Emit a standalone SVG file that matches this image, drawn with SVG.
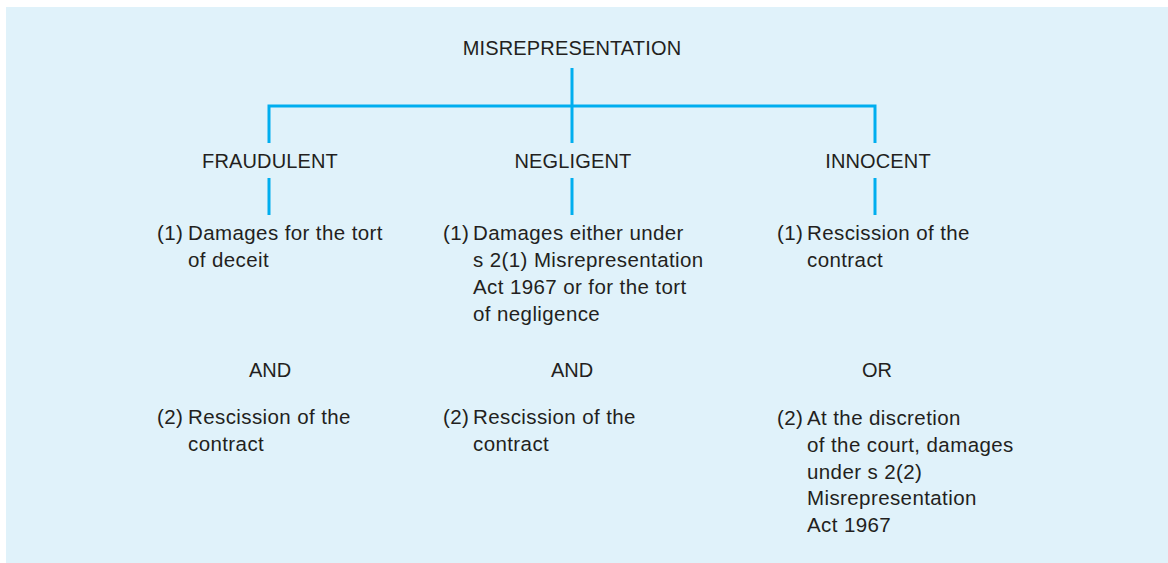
<svg xmlns="http://www.w3.org/2000/svg" width="1168" height="563" viewBox="0 0 1168 563">
<style>
.t{font-family:"Liberation Sans",Arial,sans-serif;font-size:20.5px;fill:#231F20;letter-spacing:0.4px}
.h{font-family:"Liberation Sans",Arial,sans-serif;font-size:20px;fill:#231F20;text-anchor:middle;letter-spacing:0.15px}
.c{font-family:"Liberation Sans",Arial,sans-serif;font-size:20px;fill:#231F20;text-anchor:middle}
.ln{stroke:#00AEEF;stroke-width:3;fill:none}
</style>
<rect x="0" y="0" width="1168" height="563" fill="#ffffff"/>
<rect x="6" y="7" width="1162" height="556" fill="#E0F2FA"/>
<g id="connectors">
<path class="ln" d="M572 68V143"/>
<path class="ln" d="M269 143V106H875V143"/>
<path class="ln" d="M269 178V215"/>
<path class="ln" d="M572 178V215"/>
<path class="ln" d="M875 178V215"/>
</g>
<g id="root"><text class="h" x="572" y="55">MISREPRESENTATION</text></g>
<g id="fraudulent"><text class="h" x="270" y="168">FRAUDULENT</text></g>
<g id="negligent"><text class="h" x="573" y="168">NEGLIGENT</text></g>
<g id="innocent"><text class="h" x="878" y="168">INNOCENT</text></g>
<g id="fraud-1">
<text class="t" x="157" y="240">(1)</text>
<text class="t" x="188" y="240">Damages for the tort</text>
<text class="t" x="188" y="267">of deceit</text>
</g>
<g id="fraud-and"><text class="c" x="270" y="377">AND</text></g>
<g id="fraud-2">
<text class="t" x="157" y="424">(2)</text>
<text class="t" x="188" y="424">Rescission of the</text>
<text class="t" x="188" y="451">contract</text>
</g>
<g id="neg-1">
<text class="t" x="443" y="240">(1)</text>
<text class="t" x="473" y="240">Damages either under</text>
<text class="t" x="473" y="267">s 2(1) Misrepresentation</text>
<text class="t" x="473" y="294">Act 1967 or for the tort</text>
<text class="t" x="473" y="321">of negligence</text>
</g>
<g id="neg-and"><text class="c" x="572" y="377">AND</text></g>
<g id="neg-2">
<text class="t" x="443" y="424">(2)</text>
<text class="t" x="473" y="424">Rescission of the</text>
<text class="t" x="473" y="451">contract</text>
</g>
<g id="inn-1">
<text class="t" x="777" y="240">(1)</text>
<text class="t" x="807" y="240">Rescission of the</text>
<text class="t" x="807" y="267">contract</text>
</g>
<g id="inn-or"><text class="c" x="877" y="377">OR</text></g>
<g id="inn-2">
<text class="t" x="777" y="425">(2)</text>
<text class="t" x="807" y="425">At the discretion</text>
<text class="t" x="807" y="452">of the court, damages</text>
<text class="t" x="807" y="479">under s 2(2)</text>
<text class="t" x="807" y="505">Misrepresentation</text>
<text class="t" x="807" y="532">Act 1967</text>
</g>
</svg>
